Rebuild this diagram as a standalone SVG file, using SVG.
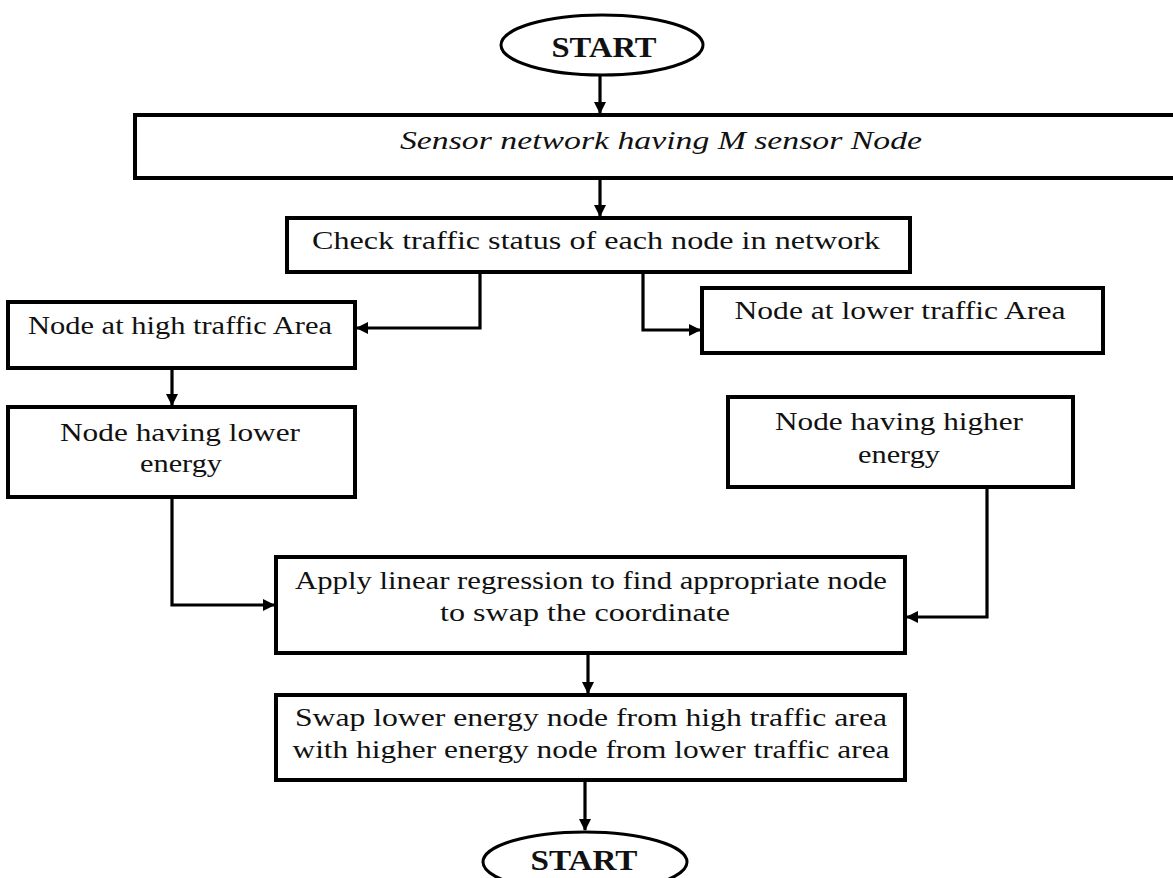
<svg xmlns="http://www.w3.org/2000/svg" width="1173" height="878" viewBox="0 0 1173 878">
<defs>
<marker id="ah" markerWidth="12" markerHeight="12" refX="11" refY="6" orient="auto" markerUnits="userSpaceOnUse">
<path d="M0,0 L12,6 L0,12 z" fill="#000"/>
</marker>
<style>
.box{fill:#fff;stroke:#000;stroke-width:4}
.t{font-family:"Liberation Serif",serif;font-size:26px;fill:#111;text-anchor:middle}
.ti{font-family:"Liberation Serif",serif;font-size:26px;font-style:italic;fill:#111;text-anchor:middle}
.tb{font-family:"Liberation Serif",serif;font-size:30px;font-weight:bold;fill:#111;text-anchor:middle}
.c{fill:none;stroke:#000;stroke-width:3.2;marker-end:url(#ah)}
</style>
</defs>
<rect width="1173" height="878" fill="#fff"/>
<g id="connectors">
<path class="c" d="M600,75 V113"/>
<path class="c" d="M600,178 V216"/>
<path class="c" d="M480,272 V328 H357"/>
<path class="c" d="M643,272 V330 H700"/>
<path class="c" d="M172,368 V405"/>
<path class="c" d="M172,497 V605 H274"/>
<path class="c" d="M987,487 V617 H907"/>
<path class="c" d="M588,653 V693"/>
<path class="c" d="M585,780 V830"/>
</g>
<g id="start">
<ellipse cx="602" cy="45" rx="101" ry="30" fill="#fff" stroke="#000" stroke-width="3"/>
<text class="tb" x="604" y="57" textLength="105" lengthAdjust="spacingAndGlyphs">START</text>
</g>
<g id="sensor-network">
<rect class="box" x="135" y="115" width="1045" height="63"/>
<text class="ti" x="661" y="149" textLength="522" lengthAdjust="spacingAndGlyphs">Sensor network having M sensor Node</text>
</g>
<g id="check-traffic">
<rect class="box" x="287" y="218" width="623" height="54"/>
<text class="t" x="596" y="249" textLength="568" lengthAdjust="spacingAndGlyphs">Check traffic status of each node in network</text>
</g>
<g id="high-traffic">
<rect class="box" x="8" y="302" width="347" height="66"/>
<text class="t" x="180" y="334" textLength="304" lengthAdjust="spacingAndGlyphs">Node at high traffic Area</text>
</g>
<g id="lower-traffic">
<rect class="box" x="702" y="288" width="401" height="65"/>
<text class="t" x="900" y="319" textLength="331" lengthAdjust="spacingAndGlyphs">Node at lower traffic Area</text>
</g>
<g id="lower-energy">
<rect class="box" x="8" y="407" width="347" height="90"/>
<text class="t" x="180" y="441" textLength="240" lengthAdjust="spacingAndGlyphs">Node having lower</text>
<text class="t" x="181" y="472" textLength="82" lengthAdjust="spacingAndGlyphs">energy</text>
</g>
<g id="higher-energy">
<rect class="box" x="728" y="397" width="345" height="90"/>
<text class="t" x="899" y="430" textLength="248" lengthAdjust="spacingAndGlyphs">Node having higher</text>
<text class="t" x="899" y="463" textLength="82" lengthAdjust="spacingAndGlyphs">energy</text>
</g>
<g id="linear-regression">
<rect class="box" x="276" y="557" width="629" height="96"/>
<text class="t" x="591" y="589" textLength="592" lengthAdjust="spacingAndGlyphs">Apply linear regression to find appropriate node</text>
<text class="t" x="585" y="621" textLength="290" lengthAdjust="spacingAndGlyphs">to swap the coordinate</text>
</g>
<g id="swap">
<rect class="box" x="276" y="695" width="629" height="85"/>
<text class="t" x="591" y="726" textLength="592" lengthAdjust="spacingAndGlyphs">Swap lower energy node from high traffic area</text>
<text class="t" x="591" y="758" textLength="597" lengthAdjust="spacingAndGlyphs">with higher energy node from lower traffic area</text>
</g>
<g id="end">
<ellipse cx="585" cy="862" rx="102" ry="30" fill="#fff" stroke="#000" stroke-width="3"/>
<text class="tb" x="584" y="870" textLength="107" lengthAdjust="spacingAndGlyphs">START</text>
</g>
</svg>
